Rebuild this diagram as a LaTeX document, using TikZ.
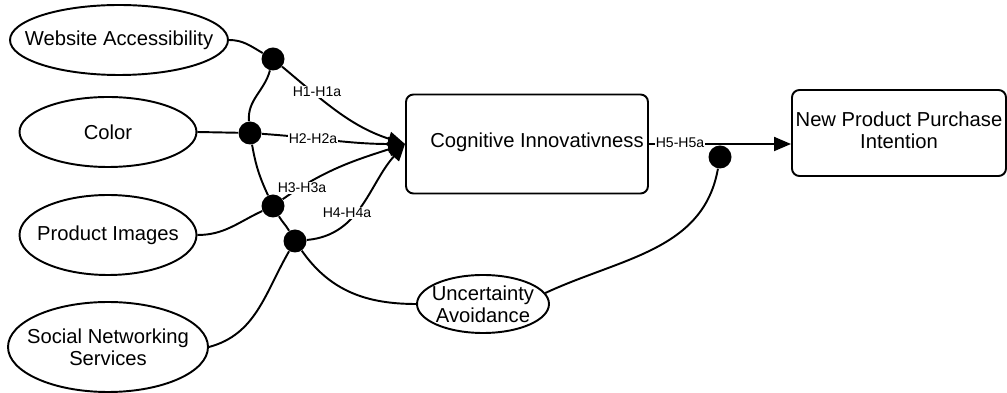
\documentclass[tikz,border=0pt]{standalone}
\usepackage{fontspec}
\setmainfont{Liberation Sans}
\usetikzlibrary{arrows.meta,shapes.geometric}

\begin{document}
\begin{tikzpicture}
        \tikzstyle{every node}=[font=\fontsize{11.5}{12.5}\selectfont]
        \tikzstyle{construct}=[draw, ellipse, line width=1.1pt, inner sep=0pt]
        \tikzstyle{block}=[draw, rectangle, rounded corners=0.15cm, line width=1.1pt, inner sep=0pt]
        \tikzstyle{joint}=[circle, fill=black, minimum size=0.46cm, inner sep=0pt]
        \tikzstyle{link}=[line width=1.1pt]
        \tikzstyle{hyp}=[font=\fontsize{8}{9}\selectfont, fill=white, inner sep=0.5pt]
        \useasboundingbox (0,0) rectangle (20.14,-7.86);
        % constructs
        \node [construct, minimum width=4.36cm, minimum height=1.40cm, label=center:{Website Accessibility}] (access) at (2.38,-0.80) {};
        \node [construct, minimum width=3.54cm, minimum height=1.40cm, label=center:{Color}] (color) at (2.16,-2.64) {};
        \node [construct, minimum width=3.54cm, minimum height=1.60cm, label=center:{Product Images}] (images) at (2.16,-4.70) {};
        \node [construct, minimum width=4.00cm, minimum height=1.80cm, label={[align=center]center:Social Networking\\Services}] (sns) at (2.16,-6.94) {};
        \node [construct, minimum width=2.64cm, minimum height=1.16cm, label={[align=center]center:Uncertainty\\Avoidance}] (uncert) at (9.66,-6.08) {};
        \node [block, minimum width=4.84cm, minimum height=1.98cm, label={[xshift=0.2cm, yshift=0.04cm]center:Cognitive Innovativness}] (cogn) at (10.54,-2.88) {};
        \node [block, minimum width=4.28cm, minimum height=1.72cm, label={[align=center, yshift=0.06cm]center:New Product Purchase\\Intention}] (intent) at (17.98,-2.66) {};
        % junctions
        \node [joint] (m1) at (5.46,-1.18) {};
        \node [joint] (m2) at (5.00,-2.66) {};
        \node [joint] (m3) at (5.46,-4.12) {};
        \node [joint] (m4) at (5.90,-4.82) {};
        \node [joint] (m5) at (14.40,-3.14) {};
        % paths into cognitive innovativness
        \draw [link] (access.east) to[out=0, in=150] (m1);
        \draw [link, ->, >={Triangle[length=0.34cm, width=0.28cm]}] (m1) to[out=-40, in=162] (cogn.west);
        \draw [link] (color.east) -- (m2);
        \draw [link, ->, >={Triangle[length=0.34cm, width=0.28cm]}] (m2) to[out=-4, in=180] (cogn.west);
        \draw [link] (images.east) to[out=0, in=205] (m3);
        \draw [link, ->, >={Triangle[length=0.34cm, width=0.28cm]}] (m3) to[out=35, in=198] (cogn.west);
        \draw [link] (sns.east) to[out=15, in=240] (m4);
        \draw [link, ->, >={Triangle[length=0.34cm, width=0.28cm]}] (m4) to[out=5, in=228] (cogn.west);
        % moderator
        \draw [link] (m1) to[out=255, in=95] (m2) to[out=-80, in=115] (m3) to[out=-60, in=120] (m4) to[out=-55, in=180] (uncert.west);
        \draw [link] (uncert.10) to[out=25, in=260] (m5);
        \draw [link, ->, >={Triangle[length=0.34cm, width=0.28cm]}] (cogn.east) -- (cogn.east -| intent.west);
        % hypotheses
        \node [hyp] (h1) at (6.34,-1.84) {H1-H1a};
        \node [hyp] (h2) at (6.26,-2.78) {H2-H2a};
        \node [hyp] (h3) at (6.04,-3.76) {H3-H3a};
        \node [hyp] (h4) at (6.94,-4.26) {H4-H4a};
        \node [hyp] (h5) at (13.60,-2.86) {H5-H5a};
\end{tikzpicture}
\end{document}
